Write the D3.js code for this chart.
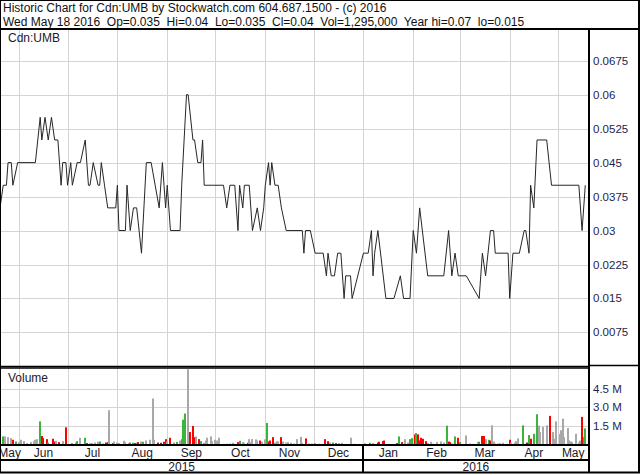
<!DOCTYPE html>
<html><head><meta charset="utf-8">
<script src="https://cdn.jsdelivr.net/npm/d3@7"></script>
<style>
body{margin:0;background:#fff}
svg{display:block}
text{font-family:"Liberation Sans",Arial,sans-serif}
</style>
</head><body>
<svg id="chart" width="640" height="475"></svg>
<script>
// ---------- DATA ----------
const symbol = "Cdn:UMB";
const headerLine1 = "Historic Chart for Cdn:UMB by Stockwatch.com 604.687.1500 - (c) 2016";
const headerLine2 = "Wed May 18 2016  Op=0.035  Hi=0.04  Lo=0.035  Cl=0.04  Vol=1,295,000  Year hi=0.07  lo=0.015";
const startDate = "2015-05-20";   // day 0
const spanDays = 366;

// price line vertices: day offset from startDate, closing price
const priceDay = [0,2,4,5,7,8,11,22,25,26, 28,30,32,34,36,38,39,41,42,44,
  45,48,50,53,55,56,58,61,62,63, 65,67,72,73,74,78,79,81,83,85,
  88,91,94,99,101,102,103,104,106,112, 113,116,117,120,121,123,125,126,127,139,
  141,143,146,148,149,151,152,155,157,160, 162,164,165,167,168,169,171,173,175,178,
  188,189,190,193,196,201,203,204,206,208, 210,212,214,215,218,219,226,229,231,232,
  233,235,240,245,249,251,255,257,259,261, 266,276,279,281,283,285,290,298,300,302,
  305,307,308,316,317,319,323,326,327,329, 330,332,334,340,343,360,362,364];
const priceVal = [.035,.04,.04,.045,.045,.04,.045,.045,.055,.05,
  .055,.05,.055,.05,.05,.04,.045,.045,.04,.045,
  .04,.045,.045,.05,.04,.04,.045,.04,.04,.045,
  .04,.035,.035,.04,.03,.03,.04,.03,.035,.035,
  .025,.045,.045,.035,.045,.04,.035,.04,.03,.03,
  .04,.06,.06,.05,.05,.045,.045,.05,.04,.04,
  .035,.04,.04,.03,.04,.035,.04,.04,.03,.035,
  .03,.035,.04,.045,.04,.045,.04,.04,.035,.03,
  .03,.025,.03,.03,.025,.025,.02,.025,.02,.02,
  .025,.025,.015,.02,.02,.015,.025,.025,.03,.02,
  .025,.03,.015,.015,.02,.015,.015,.03,.025,.035,
  .02,.02,.03,.02,.025,.02,.02,.015,.025,.02,
  .03,.03,.025,.025,.015,.025,.025,.03,.03,.025,
  .04,.035,.05,.05,.04,.04,.03,.04];

// volume bars: day offset, volume (millions), direction (u=up, d=down, n=unchanged)
const volDay = [2,3,5,7,8,10,12,13,15,17, 19,21,22,23,25,26,27,29,30,33,
  34,35,37,39,41,44,45,47,48,50, 53,54,56,57,59,61,62,64,66,67,
  68,70,71,73,74,77,78,80,81,83, 84,85,86,88,89,91,93,95,96,98,
  100,102,103,104,106,108,110,112,113,114, 115,117,118,120,121,122,124,125,127,128,
  129,131,132,134,135,136,139,141,143,145, 148,149,151,152,154,155,156,157,159,160,
  162,163,165,166,167,168,170,171,172,173, 175,176,178,179,181,183,185,187,188,190,
  192,194,196,199,202,204,205,207,209,211, 213,216,218,220,227,230,232,235,236,238,
  239,242,244,247,248,250,252,254,255,256, 258,259,260,261,262,263,265,266,268,269,
  272,274,276,278,279,280,281,283,285,286, 290,292,295,297,298,300,301,302,304,305,
  306,307,308,310,311,313,317,318,320,321, 322,325,327,328,329,330,332,334,335,336,
  338,340,342,344,345,346,348,349,350,351, 353,354,355,356,358,360,361,362,363,364];
const volVal = [.65,.65,.59,.51,.38,.24,.19,.38,.27,.11,
  .19,.27,.38,.43,1.86,.68,.51,.43,.14,.46,
  .24,.30,.19,.27,1.38,.05,.08,.16,.27,.54,
  .54,.11,.08,.08,.16,.22,.24,.08,.16,.19,
  2.76,.11,.24,.16,.08,.30,.19,.11,.16,.14,
  .11,.16,.19,.24,.22,.32,.38,3.70,.38,.16,
  .14,.22,.43,.24,.54,.16,.19,.32,.43,2.0,
  2.49,6.05,1.0,1.49,.59,.65,.43,.27,.14,.32,
  .54,.65,.27,.38,.32,.54,.05,.05,.08,.14,
  .19,.30,.19,.14,.14,.43,.19,.43,.41,.32,
  .32,.22,.41,1.73,.24,.32,.59,.16,.27,.24,
  .59,.24,.16,.19,.14,.08,.43,.62,.14,.49,
  .08,.08,.08,.05,.43,.27,.16,.16,.11,.11,
  .14,.05,.54,.05,.08,.14,.11,.16,.22,.27,
  .32,.05,.05,.11,.65,.19,.43,.16,.43,.51,
  .81,.92,.81,.32,.54,.46,.27,.11,.22,.05,
  .19,.24,.16,1.51,.24,.19,.08,.65,.54,.19,
  .73,.08,.05,.22,.22,.68,.68,.43,.38,.32,
  1.54,.24,.08,.08,.11,.14,.38,.14,.16,.27,
  .49,1.54,.08,.16,.76,.46,.86,2.43,1.51,1.0,
  1.41,1.54,2.30,1.0,.46,1.86,.86,1.14,2.08,.59,
  1.32,.32,.24,.19,.86,.16,.32,2.22,.59,1.295];
const volDir = ("unnndunnnn"+"nnnnudddud"+"dndndddnun"+"ududnnundd"+"ndnndnnnuu"+
  "dndnunnnnd"+"dddndnunuu"+"undddndunn"+"nnnnnnndnn"+"dunndnnnnn"+
  "dnnudddnnn"+"dnnnnnnnnd"+"nnddddnudn"+"nnnduunddd"+"dnndudnnuu"+
  "dudddddnnd"+"nnnuddnudu"+"nnnnuddnud"+"nnnnnndnnn"+"nunduduunn"+
  "nndnnnnnnn"+"nnnnnnnduu").split("");

const priceTicks = [0.0075,0.015,0.0225,0.03,0.0375,0.045,0.0525,0.06,0.0675];
const volTicks = [1.5,3.0,4.5];   // millions

// ---------- LAYOUT ----------
const W = 640, H = 475;
const plotL = 0, plotR = 589;
const headY = 29;
const pTop = 29, pBot = 366.4;
const vTop = 368, vBot = 444.5;
const monthRowB = 460, bottomY = 472.5;
const axisX = 593;

const svg = d3.select("#chart");
svg.append("rect").attr("width",W).attr("height",H).attr("fill","#fff");

const parse = d3.timeParse("%Y-%m-%d");
const d0 = parse(startDate);
const d1 = d3.timeDay.offset(d0, spanDays);
const dayDate = d => d3.timeDay.offset(d0, d);

const x = d3.scaleTime().domain([d0, d1]).range([0, 588.5]);
const y = d3.scaleLinear().domain([0, 0.0745]).range([pBot, pTop]);
const yv = d3.scaleLinear().domain([0, 6.15]).range([vBot, vTop]);

const gridColor = "#d4d4d4";
const months = d3.timeMonth.range(d3.timeMonth.ceil(d0), d1);

// clip paths
const defs = svg.append("defs");
defs.append("clipPath").attr("id","pclip").append("rect")
  .attr("x",plotL).attr("y",pTop).attr("width",plotR-plotL).attr("height",pBot-pTop);
defs.append("clipPath").attr("id","vclip").append("rect")
  .attr("x",plotL).attr("y",vTop).attr("width",plotR-plotL).attr("height",vBot-vTop);
defs.append("clipPath").attr("id","lclip").append("rect")
  .attr("x",plotL+1).attr("y",vBot).attr("width",plotR-plotL-1).attr("height",bottomY-vBot);

// ---- grids ----
const g = svg.append("g");
g.selectAll(".pg").data(priceTicks).join("line")
  .attr("x1",plotL).attr("x2",plotR)
  .attr("y1",d=>Math.round(y(d))+0.5).attr("y2",d=>Math.round(y(d))+0.5)
  .attr("stroke",gridColor);
g.selectAll(".vg").data(volTicks).join("line")
  .attr("x1",plotL).attr("x2",plotR)
  .attr("y1",d=>Math.round(yv(d))+0.5).attr("y2",d=>Math.round(yv(d))+0.5)
  .attr("stroke",gridColor);
[[pTop,pBot],[vTop,vBot]].forEach(([a,b])=>{
  g.append("g").selectAll("line").data(months).join("line")
    .attr("x1",d=>Math.round(x(d))+0.5).attr("x2",d=>Math.round(x(d))+0.5)
    .attr("y1",a).attr("y2",b).attr("stroke",gridColor);
});

// ---- price line ----
const pts = priceDay.map((d,i)=>({date:dayDate(d), v:priceVal[i]}));
svg.append("path").datum(pts)
  .attr("clip-path","url(#pclip)")
  .attr("fill","none").attr("stroke","#262626").attr("stroke-width",1)
  .attr("d", d3.line().x(d=>x(d.date)).y(d=>y(d.v)));

// ---- volume bars ----
const colors = {u:"#3cb43c", d:"#ff0000", n:"#a8a8a8"};
const bars = volDay.map((d,i)=>({date:dayDate(d), v:volVal[i], dir:volDir[i]}));
svg.append("g").attr("clip-path","url(#vclip)")
  .selectAll("rect").data(bars).join("rect")
  .attr("x",d=>Math.round(x(d.date))-1).attr("width",2)
  .attr("y",d=>yv(d.v)).attr("height",d=>vBot-yv(d.v))
  .attr("fill",d=>colors[d.dir]);

// ---- axis labels (right) ----
const tickColor = "#1e1e4e";
svg.append("g").selectAll("text").data(priceTicks).join("text")
  .attr("x",axisX).attr("y",d=>y(d)).attr("dy","0.35em")
  .attr("font-size","11.5px").attr("fill",tickColor)
  .text(d=>String(d));
svg.append("g").selectAll("text").data(volTicks).join("text")
  .attr("x",axisX).attr("y",d=>yv(d)).attr("dy","0.35em")
  .attr("font-size","11.5px").attr("fill",tickColor)
  .text(d=>d.toFixed(1)+" M");

// ---- month / year labels ----
const clampD = d => d < d0 ? d0 : (d > d1 ? d1 : d);
const monthSpans = d3.timeMonth.range(d3.timeMonth.floor(d0), d1);
svg.append("g").attr("clip-path","url(#lclip)")
  .selectAll("text").data(monthSpans).join("text")
  .attr("x",d=>(x(clampD(d))+x(clampD(d3.timeMonth.offset(d,1))))/2)
  .attr("y",456.5).attr("text-anchor","middle")
  .attr("font-size","12px").attr("fill","#1a1a2a")
  .text(d3.timeFormat("%b"));
const yearSpans = d3.timeYear.range(d3.timeYear.floor(d0), d1);
svg.append("g").selectAll("text").data(yearSpans).join("text")
  .attr("x",d=>(x(clampD(d))+x(clampD(d3.timeYear.offset(d,1))))/2)
  .attr("y",470.5).attr("text-anchor","middle")
  .attr("font-size","12px").attr("fill","#1a1a2a")
  .text(d3.timeFormat("%Y"));

// ---- panel titles ----
svg.append("text").attr("x",8).attr("y",42).attr("font-size","12px").attr("fill","#1a1a2a").text(symbol);
svg.append("text").attr("x",8).attr("y",382).attr("font-size","12px").attr("fill","#1a1a2a").text("Volume");

// ---- header ----
const keepSpaces = s => s.replace(/  /g, "\u00a0 ");
svg.append("text").attr("x",3).attr("y",12).attr("font-size","12px").attr("fill","#111").text(headerLine1);
svg.append("text").attr("x",3).attr("y",25.5).attr("font-size","12px").attr("fill","#111")
  .text(keepSpaces(headerLine2));

// ---- frame lines ----
const fr = svg.append("g").attr("stroke","#000").attr("fill","none");
const ln = (x1,y1,x2,y2,w=1)=>fr.append("line").attr("x1",x1).attr("y1",y1).attr("x2",x2).attr("y2",y2).attr("stroke-width",w);
ln(0.5,0,0.5,bottomY);       // left
ln(W-1,0,W-1,bottomY,2);     // right
ln(0,0.5,W,0.5);             // top
ln(0,bottomY,W,bottomY,2);   // bottom
ln(0,headY,W,headY,2);       // header separator
ln(plotR,headY,plotR,bottomY,2);   // axis column separator
ln(0,pBot,plotR,pBot,1.5);   // price bottom
ln(0,vTop,plotR,vTop,1.5);   // volume top
ln(plotR,pBot-1,W,pBot-1,1.5);
ln(0,vBot+0.5,plotR,vBot+0.5,2);   // volume bottom
ln(0,monthRowB,plotR,monthRowB,2); // month row bottom
const yearSplit = x(d3.timeYear.ceil(d0));
ln(Math.round(yearSplit),vBot,Math.round(yearSplit),bottomY,2);
</script>
</body></html>
